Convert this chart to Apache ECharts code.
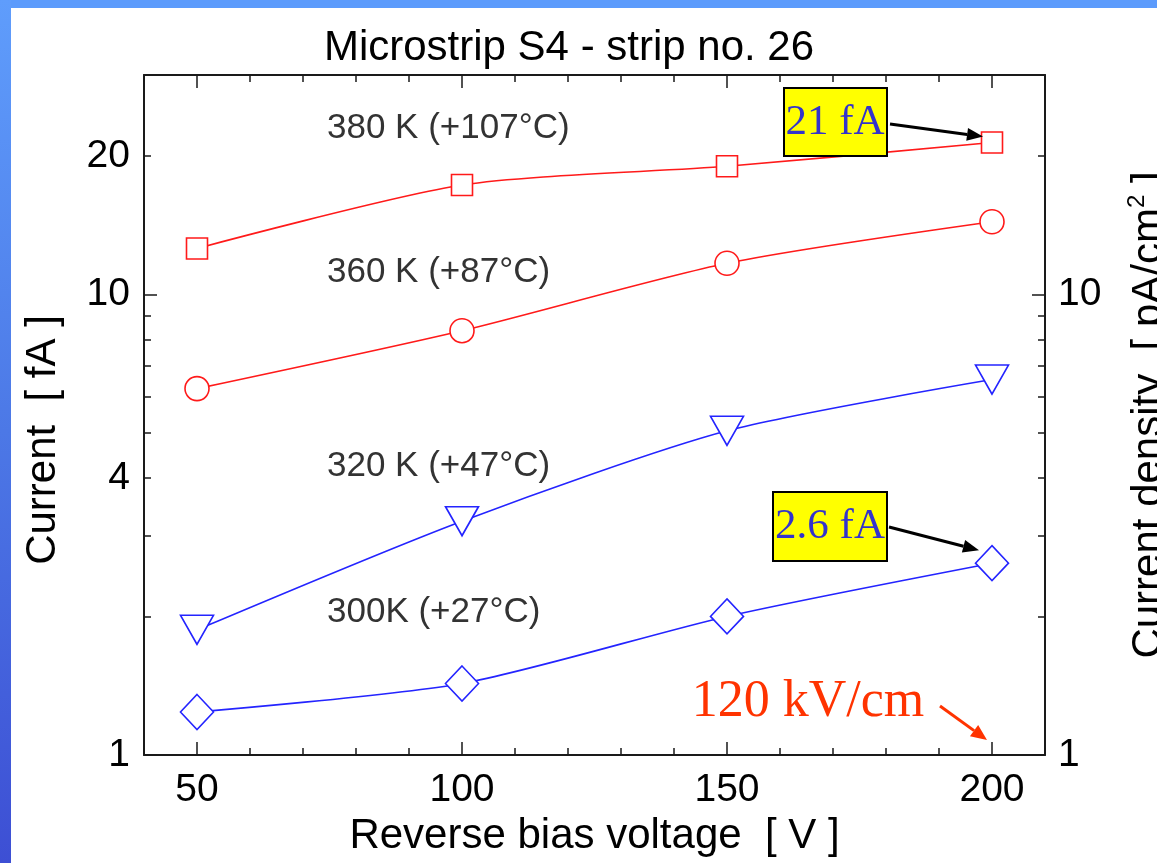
<!DOCTYPE html>
<html>
<head>
<meta charset="utf-8">
<script src="https://cdn.jsdelivr.net/npm/echarts@6/dist/echarts.min.js"></script>
<style>
html, body { margin: 0; padding: 0; background: #fff; }
#chart { width: 1157px; height: 863px; }
</style>
</head>
<body>
<div id="chart"></div>
<script>
// values
var voltages = [50, 100, 150, 200];
var current380 = [12.6, 17.3, 19.0, 21.4];
var current360 = [6.25, 8.35, 11.7, 14.4];
var current320 = [1.87, 3.22, 5.06, 6.54];
var current300 = [1.24, 1.43, 2.0, 2.61];
var seriesNames = ['380 K (+107°C)', '360 K (+87°C)', '320 K (+47°C)', '300K (+27°C)'];

var xTickLabels = [50, 100, 150, 200];
var yTickLabels = [1, 4, 10, 20];
var yMinorTicks = [2, 3, 4, 5, 6, 7, 8, 9, 20];
var yMajorTicks = [1, 10];
var rightTickLabels = [1, 10];

var SANS = '"Liberation Sans", Arial, sans-serif';
var SERIF = '"Liberation Serif", "Times New Roman", serif';
var RED = '#ff1a1a';
var BLUE = '#2424ff';
var AXIS = '#1a1a1a';

function pairs( ys ) {
  return voltages.map( function( v, i ) { return [ v, ys[ i ] ]; } );
}

function makeSeries( name, ys, color, symbol, size, rotate ) {
  return {
    name: name,
    type: 'line',
    xAxisIndex: 0,
    yAxisIndex: 0,
    data: pairs( ys ),
    smooth: 0.25,
    symbol: symbol,
    symbolSize: size,
    symbolRotate: rotate || 0,
    showAllSymbol: true,
    lineStyle: { color: color, width: 1.6 },
    itemStyle: { color: '#fff', borderColor: color, borderWidth: 1.6 },
    z: 3
  };
}

function xAx( pos, major, withLabels ) {
  var ax = {
    type: 'value', min: 40, max: 210, position: pos,
    axisLine: { show: major, lineStyle: { color: AXIS, width: 2 } },
    axisTick: { show: true, inside: true, length: major ? 13 : 7, lineStyle: { color: AXIS, width: 1.5 } },
    axisLabel: { show: false },
    splitLine: { show: false }
  };
  if( major ) {
    ax.axisTick.customValues = xTickLabels;
  } else {
    ax.interval = 10;
  }
  if( withLabels ) {
    ax.axisLabel = { show: true, customValues: xTickLabels, fontSize: 39, color: '#000', fontFamily: SANS, margin: 16 };
    ax.name = 'Reverse bias voltage  [ V ]';
    ax.nameLocation = 'middle';
    ax.nameGap = 60;
    ax.nameTextStyle = { fontSize: 42, color: '#000', fontFamily: SANS };
  }
  return ax;
}

function yAx( pos, major ) {
  return {
    type: 'log', logBase: 10, min: 1, max: 30, position: pos,
    axisLine: { show: major, lineStyle: { color: AXIS, width: 2 } },
    axisTick: { show: true, inside: true, length: major ? 13 : 7,
      customValues: major ? yMajorTicks : yMinorTicks, lineStyle: { color: AXIS, width: 1.5 } },
    axisLabel: { show: false },
    splitLine: { show: false }
  };
}

var yLeft = yAx( 'left', false );
yLeft.axisLabel = { show: true, customValues: yTickLabels, fontSize: 39, color: '#000', fontFamily: SANS, margin: 14 };
yLeft.name = 'Current  [ fA ]';
yLeft.nameLocation = 'middle';
yLeft.nameRotate = 90;
yLeft.nameGap = 80;
yLeft.nameTextStyle = { fontSize: 42, color: '#000', fontFamily: SANS, padding: [ 0, 50, 0, 0 ] };

var yRight = yAx( 'right', false );
yRight.axisLabel = { show: true, customValues: rightTickLabels, fontSize: 39, color: '#000', fontFamily: SANS, margin: 13 };
yRight.name = 'Current density  [ pA/cm{sup|2} ]';
yRight.nameLocation = 'middle';
yRight.nameRotate = 90;
yRight.nameGap = 80;
yRight.nameTextStyle = { fontSize: 42, color: '#000', fontFamily: SANS,
  rich: { sup: { fontSize: 24, fontFamily: SANS, color: '#000', padding: [ 0, 0, 24, 0 ] } } };

var chart = echarts.init( document.getElementById( 'chart' ), null, { renderer: 'canvas' } );

var option = {
  backgroundColor: '#fff',
  animation: false,
  grid: { left: 144, top: 75, right: 112, bottom: 108, containLabel: false, outerBoundsMode: 'none' },
  xAxis: [ xAx( 'bottom', true, true ), xAx( 'bottom', false, false ), xAx( 'top', true, false ), xAx( 'top', false, false ) ],
  yAxis: [ yLeft, yAx( 'left', true ), yRight, yAx( 'right', true ) ],
  series: [
    makeSeries( seriesNames[ 0 ], current380, RED, 'rect', 21 ),
    makeSeries( seriesNames[ 1 ], current360, RED, 'circle', 24 ),
    makeSeries( seriesNames[ 2 ], current320, BLUE, 'triangle', [ 33, 29 ], 180 ),
    makeSeries( seriesNames[ 3 ], current300, BLUE, 'diamond', [ 33, 35 ] )
  ],
  graphic: []
};
chart.setOption( option );

// slide frame, title, curve names and call-outs
function arrow( x1, y1, x2, y2, color, hl, hw ) {
  var dx = x2 - x1, dy = y2 - y1, len = Math.sqrt( dx * dx + dy * dy );
  var ux = dx / len, uy = dy / len;
  var bx = x2 - ux * hl, by = y2 - uy * hl;
  return [
    { type: 'line', shape: { x1: x1, y1: y1, x2: bx, y2: by }, style: { stroke: color, lineWidth: 3 }, z: 20 },
    { type: 'polygon', shape: { points: [ [ x2, y2 ], [ bx - uy * hw / 2, by + ux * hw / 2 ], [ bx + uy * hw / 2, by - ux * hw / 2 ] ] },
      style: { fill: color }, z: 20 }
  ];
}

function pt( y ) {
  return chart.convertToPixel( { xAxisIndex: 0, yAxisIndex: 0 }, [ 200, y ] );
}

var p21 = pt( current380[ 3 ] );
var p26 = pt( current300[ 3 ] );
var p1 = pt( 1 );

var labelY = [ 128, 272, 466, 612 ];
var g = [
  { type: 'rect', shape: { x: 0, y: 0, width: 1157, height: 8 }, style: { fill: '#5c9bfc' }, z: 1 },
  { type: 'rect', shape: { x: 0, y: 0, width: 11, height: 863 },
    style: { fill: new echarts.graphic.LinearGradient( 0, 0, 0, 1, [
      { offset: 0, color: '#5f9dfc' }, { offset: 0.5, color: '#4c78e6' }, { offset: 1, color: '#3d4fd4' } ] ) }, z: 1 },
  { type: 'text', x: 569, y: 48, style: { text: 'Microstrip S4 - strip no. 26', fill: '#000', font: '42px ' + SANS,
    textAlign: 'center', textVerticalAlign: 'middle' }, z: 10 }
];
seriesNames.forEach( function( n, i ) {
  g.push( { type: 'text', x: 327, y: labelY[ i ], style: { text: n, fill: '#333', font: '35px ' + SANS,
    textAlign: 'left', textVerticalAlign: 'middle' }, z: 10 } );
} );

// yellow boxes
g.push( { type: 'rect', shape: { x: 784, y: 88, width: 103, height: 68 }, style: { fill: '#ffff00', stroke: '#000', lineWidth: 2 }, z: 15 } );
g.push( { type: 'text', x: 835, y: 123, style: { text: '21 fA', fill: '#3333cc', font: '43px ' + SERIF,
  textAlign: 'center', textVerticalAlign: 'middle' }, z: 16 } );
g.push( { type: 'rect', shape: { x: 773, y: 492, width: 114, height: 69 }, style: { fill: '#ffff00', stroke: '#000', lineWidth: 2 }, z: 15 } );
g.push( { type: 'text', x: 830, y: 527, style: { text: '2.6 fA', fill: '#3333cc', font: '43px ' + SERIF,
  textAlign: 'center', textVerticalAlign: 'middle' }, z: 16 } );
g.push( { type: 'text', x: 808, y: 702, style: { text: '120 kV/cm', fill: '#ff3300', font: '52px ' + SERIF,
  textAlign: 'center', textVerticalAlign: 'middle' }, z: 16 } );

g = g.concat( arrow( 890, 124, p21[ 0 ] - 9, p21[ 1 ] - 6, '#000', 16, 13 ) );
g = g.concat( arrow( 889, 527, p26[ 0 ] - 13, p26[ 1 ] - 13, '#000', 16, 13 ) );
g = g.concat( arrow( 940, 706, p1[ 0 ] - 5, p1[ 1 ] - 15, '#ff3300', 16, 14 ) );

chart.setOption( { graphic: g } );
</script>
</body>
</html>
